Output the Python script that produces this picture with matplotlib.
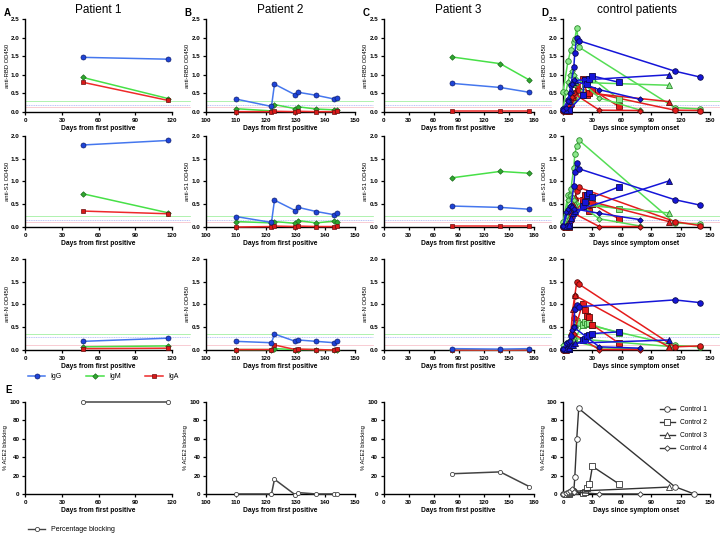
import matplotlib
matplotlib.use("Agg")
import matplotlib.pyplot as plt
from matplotlib.lines import Line2D

plt.rcParams['font.family'] = ['Liberation Sans', 'DejaVu Sans']

# ---------------- data ----------------
# Patient 1
p1_days = [47, 117]
p1_igg = [[1.47, 1.42], [1.80, 1.90], [0.19, 0.26]]   # RBD, S1, N
p1_igm = [[0.93, 0.36], [0.73, 0.31], [0.07, 0.09]]
p1_iga = [[0.80, 0.31], [0.35, 0.29], [0.03, 0.04]]
p1_block = [100, 100]

# Patient 2
p2_days = [110, 122, 123, 130, 131, 137, 143, 144]
p2_igg = [[0.35, 0.15, 0.75, 0.46, 0.53, 0.45, 0.35, 0.37],
          [0.23, 0.10, 0.59, 0.36, 0.43, 0.34, 0.27, 0.31],
          [0.19, 0.16, 0.35, 0.19, 0.22, 0.19, 0.16, 0.20]]
p2_igm = [[0.09, 0.03, 0.20, 0.09, 0.14, 0.08, 0.06, 0.06],
          [0.12, 0.09, 0.12, 0.08, 0.14, 0.09, 0.13, 0.10],
          [0.01, 0.01, 0.03, 0.01, 0.01, 0.01, 0.00, 0.01]]
p2_iga = [[0.01, 0.01, 0.02, 0.01, 0.02, 0.01, 0.01, 0.02],
          [0.00, 0.01, 0.02, 0.01, 0.02, 0.01, 0.01, 0.02],
          [0.01, 0.01, 0.11, 0.01, 0.02, 0.01, 0.00, 0.02]]
p2_block = [0, 0, 16, -1, 1.5, 0, 0, 0]

# Patient 3
p3_days = [82, 140, 175]
p3_igg = [[0.77, 0.66, 0.53], [0.46, 0.43, 0.39], [0.03, 0.02, 0.03]]
p3_igm = [[1.48, 1.30, 0.86], [1.08, 1.22, 1.18], [0.01, 0.00, 0.01]]
p3_iga = [[0.02, 0.02, 0.02], [0.02, 0.02, 0.02], [0.00, 0.00, 0.00]]
p3_block = [22, 24, 8]

# control patients
c1_days = [0, 5, 8, 11, 12, 14, 16, 114, 140]
c1_igg = [[0.08, 0.32, 0.72, 1.20, 1.60, 2.00, 1.92, 1.10, 0.94],
          [0.02, 0.35, 0.45, 0.90, 1.20, 1.41, 1.28, 0.60, 0.48],
          [0.02, 0.10, 0.30, 0.50, 0.90, 0.99, 0.95, 1.10, 1.04]]
c1_igm = [[0.55, 1.36, 1.68, 1.88, 1.95, 2.27, 1.75, 0.12, 0.08],
          [0.10, 0.70, 0.83, 1.30, 1.60, 1.78, 1.91, 0.09, 0.06],
          [0.02, 0.05, 0.15, 0.30, 0.50, 0.65, 0.60, 0.10, 0.07]]
c1_iga = [[0.02, 0.05, 0.20, 0.35, 0.50, 0.70, 0.60, 0.05, 0.04],
          [0.01, 0.05, 0.15, 0.40, 0.60, 0.80, 0.87, 0.12, 0.03],
          [0.01, 0.05, 0.20, 0.70, 1.19, 1.49, 1.45, 0.07, 0.09]]
c1_block_days = [0, 5, 8, 11, 12, 14, 16, 114, 134]
c1_block = [0, 0, 1, 3, 18, 60, 93, 8, 0]

c2_days = [6, 20, 22, 24, 27, 30, 57]
c2_igg = [[0.05, 0.45, 0.85, 0.75, 0.90, 0.97, 0.80],
          [0.02, 0.45, 0.55, 0.70, 0.75, 0.65, 0.88],
          [0.02, 0.22, 0.25, 0.30, 0.32, 0.36, 0.40]]
c2_igm = [[0.05, 0.55, 0.75, 0.85, 0.90, 0.90, 0.35],
          [0.03, 0.50, 0.60, 0.65, 0.55, 0.50, 0.40],
          [0.02, 0.55, 0.62, 0.58, 0.60, 0.55, 0.37]]
c2_iga = [[0.02, 0.90, 0.85, 0.45, 0.50, 0.60, 0.15],
          [0.01, 0.60, 0.70, 0.45, 0.35, 0.50, 0.18],
          [0.02, 1.02, 0.88, 0.75, 0.72, 0.55, 0.15]]
c2_block_days = [6, 20, 22, 24, 27, 30, 57]
c2_block = [0, 1, 2, 6, 11, 30, 11]

c3_days = [3, 6, 8, 10, 12, 108]
c3_igg = [[0.05, 0.30, 0.60, 0.80, 0.85, 1.00],
          [0.02, 0.05, 0.20, 0.30, 0.35, 1.01],
          [0.02, 0.05, 0.10, 0.12, 0.15, 0.22]]
c3_igm = [[0.10, 0.40, 0.60, 0.75, 0.80, 0.72],
          [0.05, 0.20, 0.35, 0.45, 0.50, 0.31],
          [0.02, 0.05, 0.12, 0.20, 0.25, 0.08]]
c3_iga = [[0.02, 0.10, 0.25, 0.40, 0.55, 0.28],
          [0.01, 0.10, 0.30, 0.50, 0.65, 0.12],
          [0.01, 0.10, 0.40, 0.90, 1.20, 0.07]]
c3_block_days = [3, 6, 8, 10, 12, 108]
c3_block = [0, 1, 2, 3, 3, 7.5]

c4_days = [0, 3, 5, 7, 9, 11, 37, 79]
c4_igg = [[0.05, 0.10, 0.30, 0.50, 0.75, 0.85, 0.60, 0.34],
          [0.02, 0.33, 0.40, 0.45, 0.43, 0.40, 0.30, 0.16],
          [0.02, 0.15, 0.18, 0.20, 0.45, 0.50, 0.07, 0.04]]
c4_igm = [[0.10, 0.55, 0.80, 1.00, 1.10, 1.00, 0.38, 0.05],
          [0.05, 0.25, 0.60, 0.70, 0.65, 0.60, 0.18, 0.02],
          [0.10, 0.15, 0.18, 0.20, 0.22, 0.20, 0.05, 0.02]]
c4_iga = [[0.02, 0.05, 0.20, 0.30, 0.40, 0.50, 0.05, 0.04],
          [0.01, 0.02, 0.05, 0.10, 0.20, 0.30, 0.01, 0.01],
          [0.01, 0.02, 0.03, 0.10, 0.30, 0.35, 0.01, 0.01]]
c4_block_days = [0, 3, 5, 7, 9, 11, 37, 79]
c4_block = [0, 1, 2, 3, 5, 2, 0, 0]

thresholds = [[0.19, 0.30, 0.13], [0.15, 0.25, 0.11], [0.28, 0.35, 0.10]]  # IgG, IgM, IgA
ylabels = ['anti-RBD OD450', 'anti-S1 OD450', 'anti-N OD450']

# ---------------- style ----------------
blue_l, blue_m = '#4577ee', '#1e44d8'
green_l, green_m = '#47e047', '#2fa82f'
red_l, red_m = '#ee2a2a', '#d81818'
dblue, dgreen_f, dgreen_l, dred = '#1515d8', '#8ce88c', '#55dd55', '#e41c1c'

fig = plt.figure(figsize=(7.2, 5.36), dpi=100)
col_left = [0.035, 0.286, 0.533, 0.782]
col_w = [0.204, 0.207, 0.208, 0.204]
row_bottom = [0.791, 0.5765, 0.347, 0.0784]
row_h = [0.1735, 0.170, 0.170, 0.1716]

col_x = [((0, 120), [0, 30, 60, 90, 120], 'Days from first positive'),
         ((100, 150), [100, 110, 120, 130, 140, 150], 'Days from first positive'),
         ((0, 180), [0, 30, 60, 90, 120, 150, 180], 'Days from first positive'),
         ((0, 150), [0, 30, 60, 90, 120, 150], 'Days since symptom onset')]


def style_axis(ax, xlim, xticks, xlabel, ylim, yticks, ylabel, fmt):
    ax.set_xlim(xlim)
    ax.set_ylim(ylim)
    ax.set_xticks(xticks)
    ax.set_yticks(yticks)
    ax.set_xticklabels([str(t) for t in xticks], fontweight='bold')
    ax.set_yticklabels([fmt.format(t) for t in yticks], fontweight='bold')
    ax.spines[['top', 'right']].set_visible(False)
    ax.spines['left'].set_linewidth(1.0)
    ax.spines['bottom'].set_linewidth(1.0)
    ax.tick_params(width=0.9, length=2.5, labelsize=4.5, pad=1.5)
    ax.set_xlabel(xlabel, fontsize=4.8, fontweight='bold', labelpad=2)
    ax.set_ylabel(ylabel, fontsize=4.2, labelpad=1)


def draw_thresholds(ax, thr):
    ax.axhline(thr[1], xmax=1.12, color=green_l, lw=0.5, alpha=0.6, clip_on=False, zorder=1)
    ax.axhline(thr[0], xmax=1.12, color='#7a8cf0', lw=0.5, ls=(0, (1.5, 1)), alpha=0.7, clip_on=False, zorder=1)
    ax.axhline(thr[2], xmax=1.12, color='#f08a9a', lw=0.5, alpha=0.6, clip_on=False, zorder=1)


def draw_patient(ax, days, igg, igm, iga):
    ax.plot(days, igm, color=green_l, lw=1.1, marker='D', ms=2.8, mfc=green_m, mec='#1e6a1e', mew=0.5, clip_on=False, zorder=3)
    ax.plot(days, iga, color=red_l, lw=1.1, marker='s', ms=3.4, mfc=red_m, mec='#6a1010', mew=0.5, clip_on=False, zorder=3)
    ax.plot(days, igg, color=blue_l, lw=1.1, marker='o', ms=3.6, mfc=blue_m, mec='#101f70', mew=0.5, clip_on=False, zorder=4)


patients = [(p1_days, p1_igg, p1_igm, p1_iga, p1_block),
            (p2_days, p2_igg, p2_igm, p2_iga, p2_block),
            (p3_days, p3_igg, p3_igm, p3_iga, p3_block)]
controls = [(c1_days, c1_igg, c1_igm, c1_iga, c1_block_days, c1_block, 'o', 4.0, 'Control 1'),
            (c2_days, c2_igg, c2_igm, c2_iga, c2_block_days, c2_block, 's', 3.8, 'Control 2'),
            (c3_days, c3_igg, c3_igm, c3_iga, c3_block_days, c3_block, '^', 3.8, 'Control 3'),
            (c4_days, c4_igg, c4_igm, c4_iga, c4_block_days, c4_block, 'D', 2.8, 'Control 4')]
titles = ['Patient 1', 'Patient 2', 'Patient 3', 'control patients']
letters = ['A', 'B', 'C', 'D']

for c in range(4):
    xlim, xticks, xlabel = col_x[c]
    for r in range(4):
        ax = fig.add_axes([col_left[c], row_bottom[r], col_w[c], row_h[r]])
        if r < 3:
            top = 2.5 if r == 0 else 2.0
            yt = [0.0, 0.5, 1.0, 1.5, 2.0, 2.5] if r == 0 else [0.0, 0.5, 1.0, 1.5, 2.0]
            style_axis(ax, xlim, xticks, xlabel, (0, top), yt, ylabels[r], '{:.1f}')
            draw_thresholds(ax, thresholds[r])
            if c < 3:
                days, igg, igm, iga, _ = patients[c]
                draw_patient(ax, days, igg[r], igm[r], iga[r])
            else:
                for days, igg, igm, iga, _, _, mk, ms, _ in controls:
                    ax.plot(days, igm[r], color=dgreen_l, lw=1.1, marker=mk, ms=ms, mfc=dgreen_f, mec='#2a8a2a', mew=0.6, clip_on=False, zorder=3)
                    ax.plot(days, iga[r], color=dred, lw=1.1, marker=mk, ms=ms, mfc=dred, mec='#5a0a0a', mew=0.6, clip_on=False, zorder=3)
                    ax.plot(days, igg[r], color=dblue, lw=1.1, marker=mk, ms=ms, mfc=dblue, mec='#0a0a50', mew=0.6, clip_on=False, zorder=4)
            if r == 0:
                ax.set_title(titles[c], fontsize=8.5, pad=4)
                fig.text(col_left[c] - 0.03, 0.975, letters[c], fontsize=7, fontweight='bold', va='center')
        else:
            style_axis(ax, xlim, xticks, xlabel, (0, 100), [0, 20, 40, 60, 80, 100], '% ACE2 blocking', '{:.0f}')
            if c < 3:
                days, _, _, _, block = patients[c]
                ax.plot(days, block, color='#444444', lw=1.1, marker='o', ms=3.0, mfc='white', mec='#444444', mew=0.6, clip_on=False, zorder=3)
            else:
                for _, _, _, _, bdays, block, mk, ms, name in controls:
                    ax.plot(bdays, block, color='#333333', lw=1.0, marker=mk, ms=ms, mfc='white', mec='#333333', mew=0.6, clip_on=False, zorder=3, label=name)
                ax.legend(loc='upper right', bbox_to_anchor=(1.02, 1.02), frameon=False, fontsize=4.8, handlelength=2.2, labelspacing=0.9)

fig.text(0.008, 0.272, 'E', fontsize=7, fontweight='bold', va='center')

iso_handles = [Line2D([], [], color=blue_l, lw=1.1, marker='o', ms=3.6, mfc=blue_m, mec='#101f70', mew=0.5),
               Line2D([], [], color=green_l, lw=1.1, marker='D', ms=2.8, mfc=green_m, mec='#1e6a1e', mew=0.5),
               Line2D([], [], color=red_l, lw=1.1, marker='s', ms=3.4, mfc=red_m, mec='#6a1010', mew=0.5)]
fig.legend(iso_handles, ['IgG', 'IgM', 'IgA'], loc='center left', bbox_to_anchor=(0.03, 0.297), ncol=3,
           frameon=False, fontsize=5, columnspacing=3.5, handlelength=2.5)
blk_handle = [Line2D([], [], color='#444444', lw=1.0, marker='o', ms=3.0, mfc='white', mec='#444444', mew=0.6)]
fig.legend(blk_handle, ['Percentage blocking'], loc='center left', bbox_to_anchor=(0.03, 0.012),
           frameon=False, fontsize=5, handlelength=2.5)

fig.savefig('out.png', dpi=100)
